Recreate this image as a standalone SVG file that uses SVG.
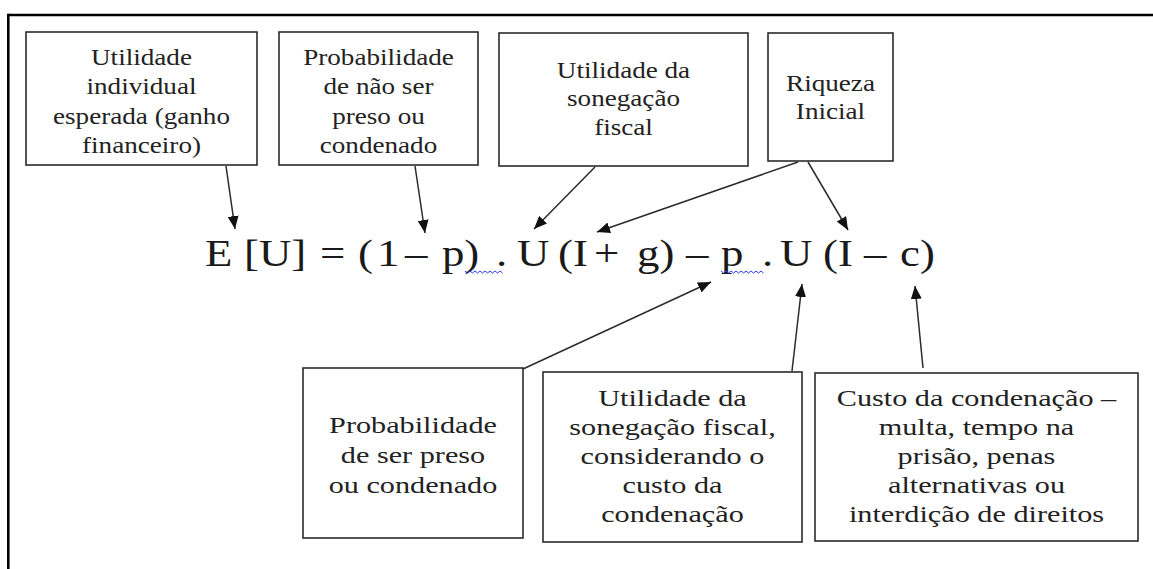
<svg xmlns="http://www.w3.org/2000/svg" width="1153" height="569" viewBox="0 0 1153 569">
<style>
.box{fill:#fff;stroke:#2b2b2b;stroke-width:1.6}
.t{font-family:"Liberation Serif","Times New Roman",serif;font-size:23px;fill:#222;text-anchor:middle}
.tb{font-family:"Liberation Serif","Times New Roman",serif;font-size:24px;fill:#222;text-anchor:middle}
.eq{font-family:"Liberation Serif","Times New Roman",serif;font-size:39px;fill:#1a1a1a}
.c{stroke:#2b2b2b;stroke-width:1.5;fill:none;marker-end:url(#ah)}
.sq{stroke:#2a3cff;stroke-width:1;fill:none}
</style>
<defs>
<marker id="ah" markerUnits="userSpaceOnUse" markerWidth="13" markerHeight="11" refX="13" refY="5.5" orient="auto">
<path d="M0,0 L13,5.5 L0,11 z" fill="#111"/>
</marker>
</defs>
<rect width="1153" height="569" fill="#fff"/>
<g id="frame" stroke="#000" stroke-width="2.6">
<line x1="8.3" y1="15" x2="1153" y2="15"/>
<line x1="8.3" y1="13.7" x2="8.3" y2="569"/>
</g>

<g id="n1">
<rect class="box" x="26" y="32" width="231" height="133"/>
<text class="t" transform="translate(141.5,0) scale(1.18,1)"><tspan x="0" y="65">Utilidade</tspan><tspan x="0" y="94.5">individual</tspan><tspan x="0" y="124">esperada (ganho</tspan><tspan x="0" y="153">financeiro)</tspan></text>
</g>
<g id="n2">
<rect class="box" x="279" y="32" width="199" height="133"/>
<text class="t" transform="translate(378.5,0) scale(1.18,1)"><tspan x="0" y="65">Probabilidade</tspan><tspan x="0" y="94.5">de não ser</tspan><tspan x="0" y="124">preso ou</tspan><tspan x="0" y="153">condenado</tspan></text>
</g>
<g id="n3">
<rect class="box" x="499" y="33" width="249" height="133"/>
<text class="t" transform="translate(623.5,0) scale(1.18,1)"><tspan x="0" y="78">Utilidade da</tspan><tspan x="0" y="106.5">sonegação</tspan><tspan x="0" y="135">fiscal</tspan></text>
</g>
<g id="n4">
<rect class="box" x="768" y="33" width="125" height="128"/>
<text class="t" transform="translate(830.5,0) scale(1.18,1)"><tspan x="0" y="91">Riqueza</tspan><tspan x="0" y="119">Inicial</tspan></text>
</g>

<g id="equation">
<g transform="scale(1.15,1)">
<text class="eq" y="266"><tspan x="178.3">E</tspan><tspan x="212.2">[U]</tspan><tspan x="278.3">=</tspan><tspan x="311.3">(</tspan><tspan x="327.8">1</tspan><tspan x="352.2">–</tspan><tspan x="384.3">p)</tspan><tspan x="431.3">.</tspan><tspan x="449.6">U</tspan><tspan x="485.2">(I</tspan><tspan x="516.5">+</tspan><tspan x="553.9">g)</tspan><tspan x="596.5">–</tspan><tspan x="627">p</tspan><tspan x="662.6">.</tspan><tspan x="678.3">U</tspan><tspan x="715.7">(I</tspan><tspan x="751.3">–</tspan><tspan x="782.6">c)</tspan></text>
</g>
<path class="sq" d="M465,271 l2.5,2 l2.5,-2 l2.5,2 l2.5,-2 l2.5,2 l2.5,-2 l2.5,2 l2.5,-2 l2.5,2 l2.5,-2 l2.5,2 l2.5,-2 l2.5,2 l2.5,-2 l2.5,2"/>
<path class="sq" d="M721,271 l2.5,2 l2.5,-2 l2.5,2 l2.5,-2 l2.5,2 l2.5,-2 l2.5,2 l2.5,-2 l2.5,2 l2.5,-2 l2.5,2 l2.5,-2 l2.5,2 l2.5,-2 l2.5,2 l2.5,-2 l2.5,2"/>
</g>

<g id="n5">
<rect class="box" x="303" y="368" width="220" height="170"/>
<text class="tb" transform="translate(413,0) scale(1.26,1)"><tspan x="0" y="433.3">Probabilidade</tspan><tspan x="0" y="463">de ser preso</tspan><tspan x="0" y="492.7">ou condenado</tspan></text>
</g>
<g id="n6">
<rect class="box" x="543" y="372" width="259" height="170"/>
<text class="tb" transform="translate(672.5,0) scale(1.26,1)"><tspan x="0" y="406">Utilidade da</tspan><tspan x="0" y="435">sonegação fiscal,</tspan><tspan x="0" y="464.5">considerando o</tspan><tspan x="0" y="493">custo da</tspan><tspan x="0" y="522">condenação</tspan></text>
</g>
<g id="n7">
<rect class="box" x="815" y="373" width="323" height="168"/>
<text class="tb" transform="translate(976.5,0) scale(1.26,1)"><tspan x="0" y="406">Custo da condenação –</tspan><tspan x="0" y="435">multa, tempo na</tspan><tspan x="0" y="464">prisão, penas</tspan><tspan x="0" y="493">alternativas ou</tspan><tspan x="0" y="522">interdição de direitos</tspan></text>
</g>

<g id="connectors">
<line class="c" x1="226" y1="166" x2="235" y2="229"/>
<line class="c" x1="415" y1="166" x2="425" y2="233"/>
<line class="c" x1="595" y1="167" x2="534" y2="229"/>
<line class="c" x1="798" y1="162" x2="597" y2="232"/>
<line class="c" x1="808" y1="162" x2="848" y2="230"/>
<line class="c" x1="523" y1="369" x2="711" y2="282"/>
<line class="c" x1="792" y1="371" x2="802" y2="284"/>
<line class="c" x1="923" y1="368" x2="915" y2="286"/>
</g>
</svg>
